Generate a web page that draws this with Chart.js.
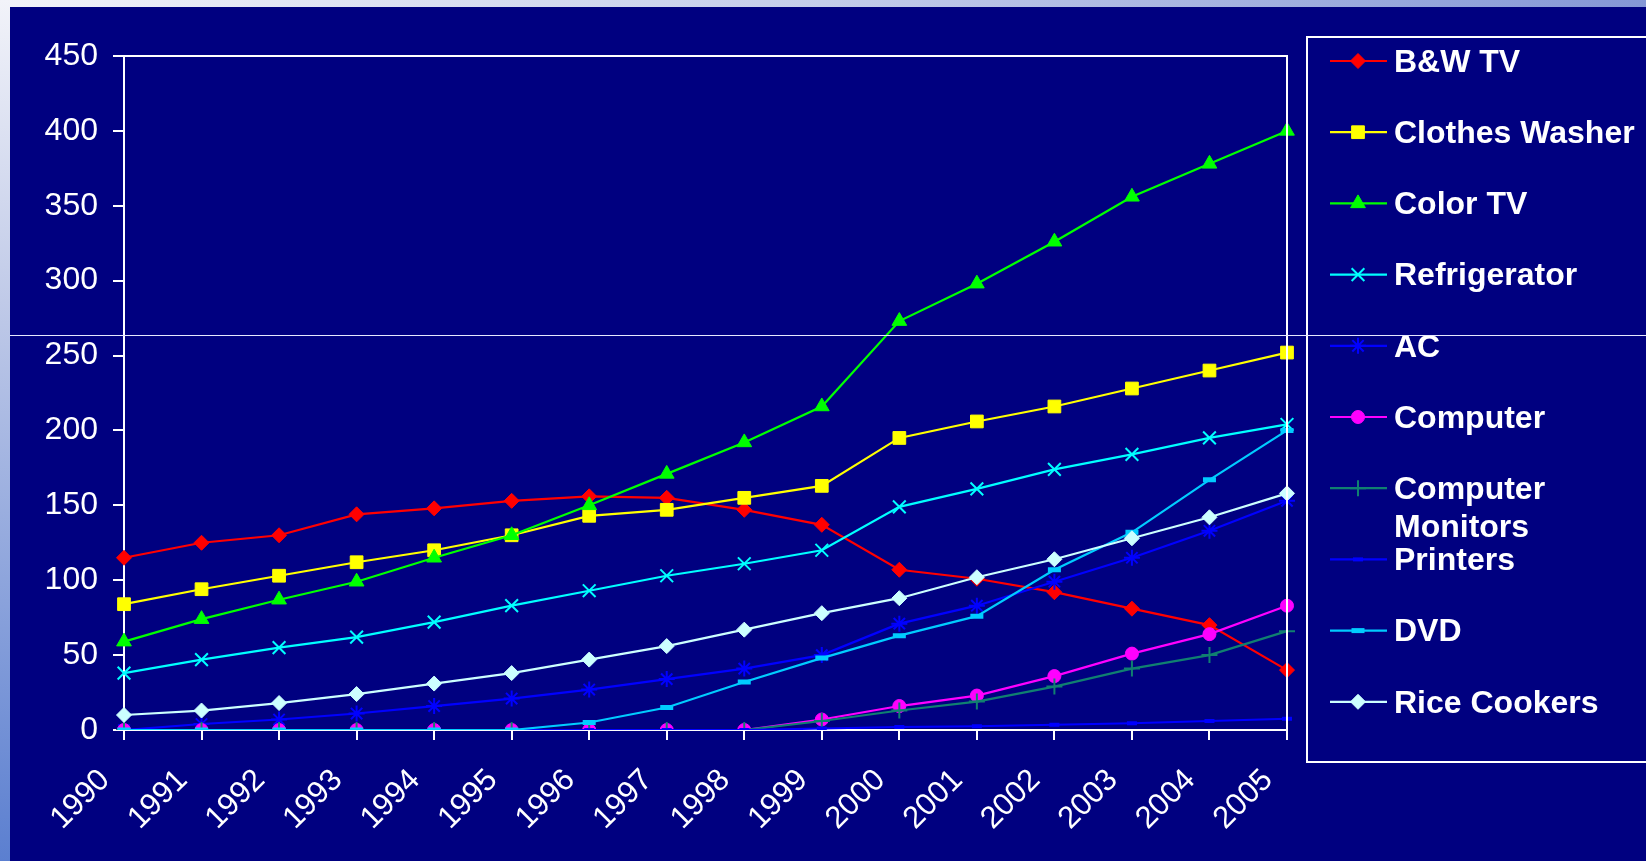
<!DOCTYPE html>
<html>
<head>
<meta charset="utf-8">
<script src="https://cdn.jsdelivr.net/npm/chart.js@4.4.1/dist/chart.umd.min.js"></script>
<style>
  html, body { margin: 0; padding: 0; width: 1646px; height: 861px; overflow: hidden; background: #000080; }
  #topStrip { position: absolute; left: 0; top: 0; width: 1646px; height: 7px;
    background: linear-gradient(to right, #f2f3f9, #c4cdea 50%, #8497d6); }
  #leftStrip { position: absolute; left: 0; top: 0; width: 10px; height: 861px;
    background: linear-gradient(to bottom, #f2f3f9, #c0cae8 35%, #5b7fd0); }
  #wrap { position: absolute; left: 0; top: 0; width: 1646px; height: 861px; }
  #hline { position: absolute; left: 10px; top: 335px; width: 1636px; height: 1px; background: #e6e8ff; }
</style>
</head>
<body>
<div id="topStrip"></div>
<div id="leftStrip"></div>
<div id="wrap"><canvas id="c"></canvas></div>
<div id="hline"></div>
<script>
// ---- data ----
const years = ['1990','1991','1992','1993','1994','1995','1996','1997','1998','1999','2000','2001','2002','2003','2004','2005'];
const bwTV            = [115, 125, 130, 144, 148, 153, 156, 155, 147, 137, 107, 101, 92, 81, 70, 40];
const clothesWasher   = [84, 94, 103, 112, 120, 130, 143, 147, 155, 163, 195, 206, 216, 228, 240, 252];
const colorTV         = [59, 74, 87, 99, 115, 130, 150, 171, 192, 216, 273, 298, 326, 356, 378, 400];
const refrigerator    = [38, 47, 55, 62, 72, 83, 93, 103, 111, 120, 149, 161, 174, 184, 195, 204];
const ac              = [0, 4, 7, 11, 16, 21, 27, 34, 41, 50, 71, 83, 99, 115, 133, 153];
const computer        = [0, 0, 0, 0, 0, 0, 0, 0, 0, 7, 16, 23, 36, 51, 64, 83];
const computerMonitors= [0, 0, 0, 0, 0, 0, 0, 0, 0, 6, 13, 19, 29, 41, 50, 66];
const printers        = [0, 0, 0, 0, 0, 0, 0, 0, 0, 1, 2, 2.5, 3.5, 4.5, 6, 7.5];
const dvd             = [0, 0, 0, 0, 0, 0, 5, 15, 32, 48, 63, 76, 107, 132, 167, 200];
const riceCookers     = [10, 13, 18, 24, 31, 38, 47, 56, 67, 78, 88, 102, 114, 128, 142, 158];
const seriesLabels = ['B&W TV','Clothes Washer','Color TV','Refrigerator','AC','Computer','Computer Monitors','Printers','DVD','Rice Cookers'];
const legendLines  = [['B&W TV'],['Clothes Washer'],['Color TV'],['Refrigerator'],['AC'],['Computer'],['Computer','Monitors'],['Printers'],['DVD'],['Rice Cookers']];
const yMin = 0, yMax = 450, yStep = 50;

// ---- styles ----
const FONT = '"Liberation Sans", Arial, Helvetica, sans-serif';
const styles = [
  { color: '#FF0000', style: 'rectRot', r: 7.5, bw: 1 },
  { color: '#FFFF00', style: 'rect', r: 9, bw: 1 },
  { color: '#00FF00', style: 'triangle', r: 8.5, bw: 1 },
  { color: '#00FFFF', style: 'crossRot', r: 9, bw: 2 },
  { color: '#0000FF', style: 'star', r: 8, bw: 2 },
  { color: '#FF00FF', style: 'circle', r: 6.5, bw: 1 },
  { color: '#108070', style: 'cross', r: 8, bw: 2 },
  { color: '#0000FF', style: 'line', r: 5, bw: 4 },
  { color: '#00CCFF', style: 'line', r: 6.5, bw: 5 },
  { color: '#CCFFFF', style: 'rectRot', r: 7.5, bw: 1 }
];
const values = [bwTV, clothesWasher, colorTV, refrigerator, ac, computer, computerMonitors, printers, dvd, riceCookers];

const datasets = values.map((v, i) => ({
  label: seriesLabels[i],
  data: v,
  borderColor: styles[i].color,
  backgroundColor: styles[i].color,
  pointBackgroundColor: styles[i].color,
  pointBorderColor: styles[i].color,
  pointStyle: styles[i].style,
  pointRadius: styles[i].r,
  pointHoverRadius: styles[i].r,
  pointBorderWidth: styles[i].bw,
  borderWidth: 2.2,
  tension: 0,
  fill: false,
  order: values.length - i
}));

const frame = {
  id: 'frame',
  afterDraw(chart) {
    const { ctx, chartArea: a } = chart;
    ctx.save();
    ctx.strokeStyle = '#FFFFFF';
    ctx.lineWidth = 2;
    ctx.beginPath();
    ctx.moveTo(a.left, a.top);
    ctx.lineTo(a.right, a.top);
    ctx.lineTo(a.right, a.bottom);
    ctx.stroke();
    ctx.restore();
  }
};

const legendBox = {
  id: 'legendBox',
  afterDraw(chart) {
    const ctx = chart.ctx;
    ctx.save();
    ctx.strokeStyle = '#FFFFFF';
    ctx.lineWidth = 2;
    ctx.strokeRect(1307, 37, 400, 725);
    const y0 = 61, dy = 71.2;
    chart.data.datasets.forEach((ds, i) => {
      const y = y0 + i * dy;
      ctx.strokeStyle = ds.borderColor;
      ctx.lineWidth = 2.2;
      ctx.beginPath();
      ctx.moveTo(1330, y);
      ctx.lineTo(1387, y);
      ctx.stroke();
      ctx.fillStyle = ds.pointBackgroundColor;
      ctx.strokeStyle = ds.pointBorderColor;
      ctx.lineWidth = ds.pointBorderWidth;
      Chart.helpers.drawPoint(ctx, { pointStyle: ds.pointStyle, radius: ds.pointRadius, rotation: 0, borderWidth: ds.pointBorderWidth }, 1358, y);
      ctx.fillStyle = '#FFFFFF';
      ctx.font = 'bold 32px ' + FONT;
      ctx.textBaseline = 'middle';
      ctx.textAlign = 'left';
      legendLines[i].forEach((t, k) => ctx.fillText(t, 1394, y + 2 + k * 38));
    });
    ctx.restore();
  }
};

new Chart(document.getElementById('c'), {
  type: 'line',
  data: { labels: years, datasets },
  options: {
    responsive: true,
    maintainAspectRatio: false,
    animation: false,
    layout: { padding: { left: 0, top: 56, right: 359, bottom: 0 } },
    plugins: { legend: { display: false }, tooltip: { enabled: false }, title: { display: false } },
    scales: {
      x: {
        type: 'category',
        offset: false,
        afterFit: s => { s.height = 131; },
        grid: { display: true, drawOnChartArea: false, drawTicks: true, tickLength: 10, color: '#FFFFFF', lineWidth: 2 },
        border: { display: true, color: '#FFFFFF', width: 2 },
        ticks: { color: '#FFFFFF', font: { family: FONT, size: 31 }, maxRotation: 45, minRotation: 45, autoSkip: false, padding: 22, labelOffset: -19 }
      },
      y: {
        min: yMin, max: yMax,
        afterFit: s => { s.width = 124; },
        grid: { display: true, drawOnChartArea: false, drawTicks: true, tickLength: 11, color: '#FFFFFF', lineWidth: 2 },
        border: { display: true, color: '#FFFFFF', width: 2 },
        ticks: { stepSize: yStep, color: '#FFFFFF', font: { family: FONT, size: 32 }, padding: 15 }
      }
    }
  },
  plugins: [frame, legendBox]
});
</script>
</body>
</html>
